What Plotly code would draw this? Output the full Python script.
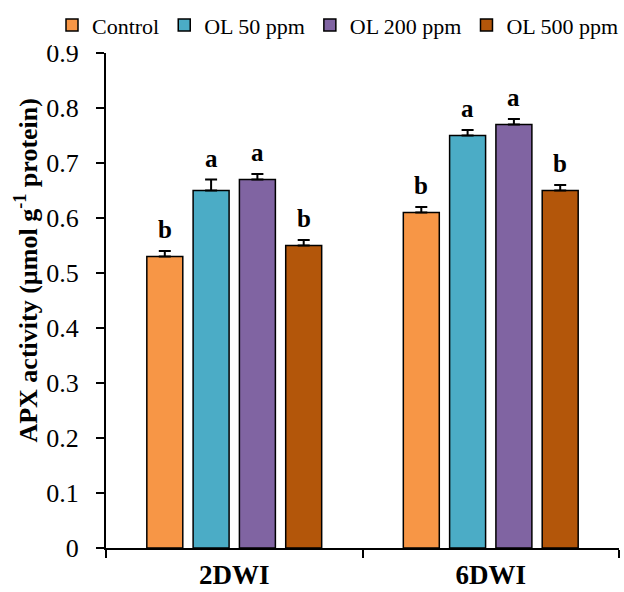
import plotly.graph_objects as go

categories = ["2DWI", "6DWI"]
series_names = ["Control", "OL 50 ppm", "OL 200 ppm", "OL 500 ppm"]
values = [
    [0.53, 0.61],
    [0.65, 0.75],
    [0.67, 0.77],
    [0.55, 0.65],
]
errors = [
    [0.01, 0.01],
    [0.02, 0.01],
    [0.01, 0.01],
    [0.01, 0.01],
]
letters = [
    ["b", "b"],
    ["a", "a"],
    ["a", "a"],
    ["b", "b"],
]
colors = ["#F79646", "#4BACC6", "#8064A2", "#B3560A"]
y_title = "<b>APX activity (µmol g<sup>-1</sup> protein)</b>"

FONT = "Liberation Serif, Times New Roman, serif"

fig = go.Figure()
for i, name in enumerate(series_names):
    fig.add_trace(go.Bar(
        name=name, x=categories, y=values[i],
        marker=dict(color=colors[i], line=dict(color="black", width=1.5)),
        error_y=dict(type="data", array=errors[i], arrayminus=[0] * len(errors[i]),
                     symmetric=False, color="black", thickness=2, width=6),
    ))

# significance letters
L, R, T, B = 106, 5, 52, 44
plot_w = 624 - L - R
plot_h = 592 - T - B
cat_w = plot_w / len(categories)
bargap = 0.278
slot = cat_w * (1 - bargap) / len(series_names)
for i in range(len(series_names)):
    off = (i - (len(series_names) - 1) / 2) * slot
    for j, c in enumerate(categories):
        fig.add_annotation(x=c, y=values[i][j] + errors[i][j], xref="x", yref="y",
                           text="<b>%s</b>" % letters[i][j], showarrow=False,
                           xshift=off, yshift=6, yanchor="bottom",
                           font=dict(family=FONT, size=25, color="black"))

# y-axis title (placed like the reference, above the axis centre)
fig.add_annotation(text=y_title, xref="paper", yref="paper",
                   x=(27 - L) / plot_w, y=(548 - 270) / plot_h,
                   xanchor="center", yanchor="middle", textangle=-90, showarrow=False,
                   font=dict(family=FONT, size=26, color="black"))

fig.update_layout(
    width=624, height=592,
    margin=dict(l=L, r=R, t=T, b=B),
    paper_bgcolor="white", plot_bgcolor="white",
    barmode="group", bargap=bargap, bargroupgap=0.223,
    font=dict(family=FONT, size=22, color="black"),
    showlegend=True,
    legend=dict(orientation="h", x=-0.09, xanchor="left", y=1.054, yanchor="middle",
                font=dict(family=FONT, size=22, color="black"),
                itemwidth=30, tracegroupgap=0, traceorder="normal"),
    xaxis=dict(showline=True, linecolor="black", linewidth=2, automargin=False,
               ticks="outside", tickson="boundaries", ticklen=8, tickwidth=2, tickcolor="black",
               tickfont=dict(family=FONT, size=27, color="black"), ticklabelstandoff=2,
               tickvals=categories, ticktext=["<b>%s</b>" % c for c in categories],
               showgrid=False, zeroline=False),
    yaxis=dict(range=[0, 0.9], dtick=0.1, tickformat="~g", automargin=False,
               showline=True, linecolor="black", linewidth=2,
               ticks="outside", ticklen=8, tickwidth=2, tickcolor="black",
               tickfont=dict(family=FONT, size=26, color="black"), ticklabelstandoff=12,
               showgrid=False, zeroline=False),
)

fig.write_html("out.html", config={"displayModeBar": False},
               post_script="document.body.style.margin='0';")
